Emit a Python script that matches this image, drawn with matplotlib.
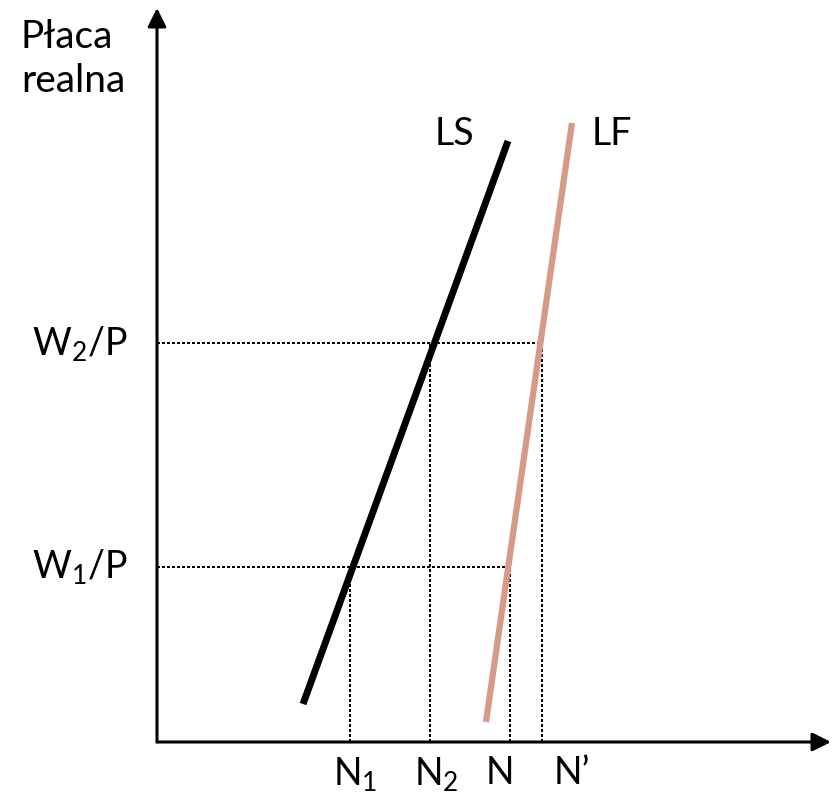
import matplotlib
matplotlib.use("Agg")
import matplotlib.pyplot as plt

plt.rcParams['font.family'] = ['Lato', 'DejaVu Sans']
plt.rcParams['mathtext.fontset'] = 'custom'
plt.rcParams['mathtext.rm'] = 'Lato'
plt.rcParams['mathtext.default'] = 'regular'

# Curves (endpoints in chart units)
ls_x = [14.6, 35.1]
ls_y = [3.8, 60.1]
lf_x = [32.9, 41.5]
lf_y = [2.0, 61.9]

# Wage levels and employment levels
wage_labels = ["W$_1$/P", "W$_2$/P"]
wage_levels = [17.5, 39.9]
n_labels = ["N$_1$", "N$_2$", "N", "N\u2019"]
n_levels = [19.3, 27.3, 35.3, 38.5]
# which wage each N belongs to
n_wage = [17.5, 39.9, 17.5, 39.9]
wage_right = [35.3, 38.5]

fig = plt.figure(figsize=(8.34, 7.94), dpi=100)
ax = fig.add_axes([0, 0, 1, 1])
ax.set_xlim(-15.7, 67.7)
ax.set_ylim(-5.2, 74.2)
ax.axis('off')

# axes with arrows
ax.annotate('', xy=(67.4, 0), xytext=(0, 0),
            arrowprops=dict(arrowstyle='-|>', lw=2.2, color='black',
                            mutation_scale=28, shrinkA=0, shrinkB=0))
ax.annotate('', xy=(0, 73.4), xytext=(0, 0),
            arrowprops=dict(arrowstyle='-|>', lw=2.2, color='black',
                            mutation_scale=28, shrinkA=0, shrinkB=0))

# dotted guide lines
for w, xr in zip(wage_levels, wage_right):
    ax.plot([0, xr], [w, w], color='black', lw=1.5, ls=(0, (1, 1)),
            antialiased=False)
for n, w in zip(n_levels, n_wage):
    ax.plot([n, n], [0, w], color='black', lw=1.5, ls=(0, (1, 1)),
            antialiased=False)

# curves
ax.plot(ls_x, ls_y, color='black', lw=5, solid_capstyle='butt')
ax.plot(lf_x, lf_y, color='#d59a88', lw=4.5, solid_capstyle='butt')

fs = 27
ax.text(-13.6, 69.4, "Płaca", fontsize=28, ha='left', va='baseline')
ax.text(-13.6, 65.0, "realna", fontsize=28, ha='left', va='baseline')
ax.text(-2.9, wage_levels[0], wage_labels[0], fontsize=fs, ha='right', va='center')
ax.text(-2.9, wage_levels[1], wage_labels[1], fontsize=fs, ha='right', va='center')
ax.text(27.8, 60.8, "LS", fontsize=fs, ha='left', va='center')
ax.text(43.5, 60.8, "LF", fontsize=fs, ha='left', va='center')

n_offsets = [0.5, 0.6, -1.0, 3.0]
for lab, n, off in zip(n_labels, n_levels, n_offsets):
    ax.text(n + off, -1.3, lab, fontsize=fs, ha='center', va='top')

fig.savefig("out.png", dpi=100)
